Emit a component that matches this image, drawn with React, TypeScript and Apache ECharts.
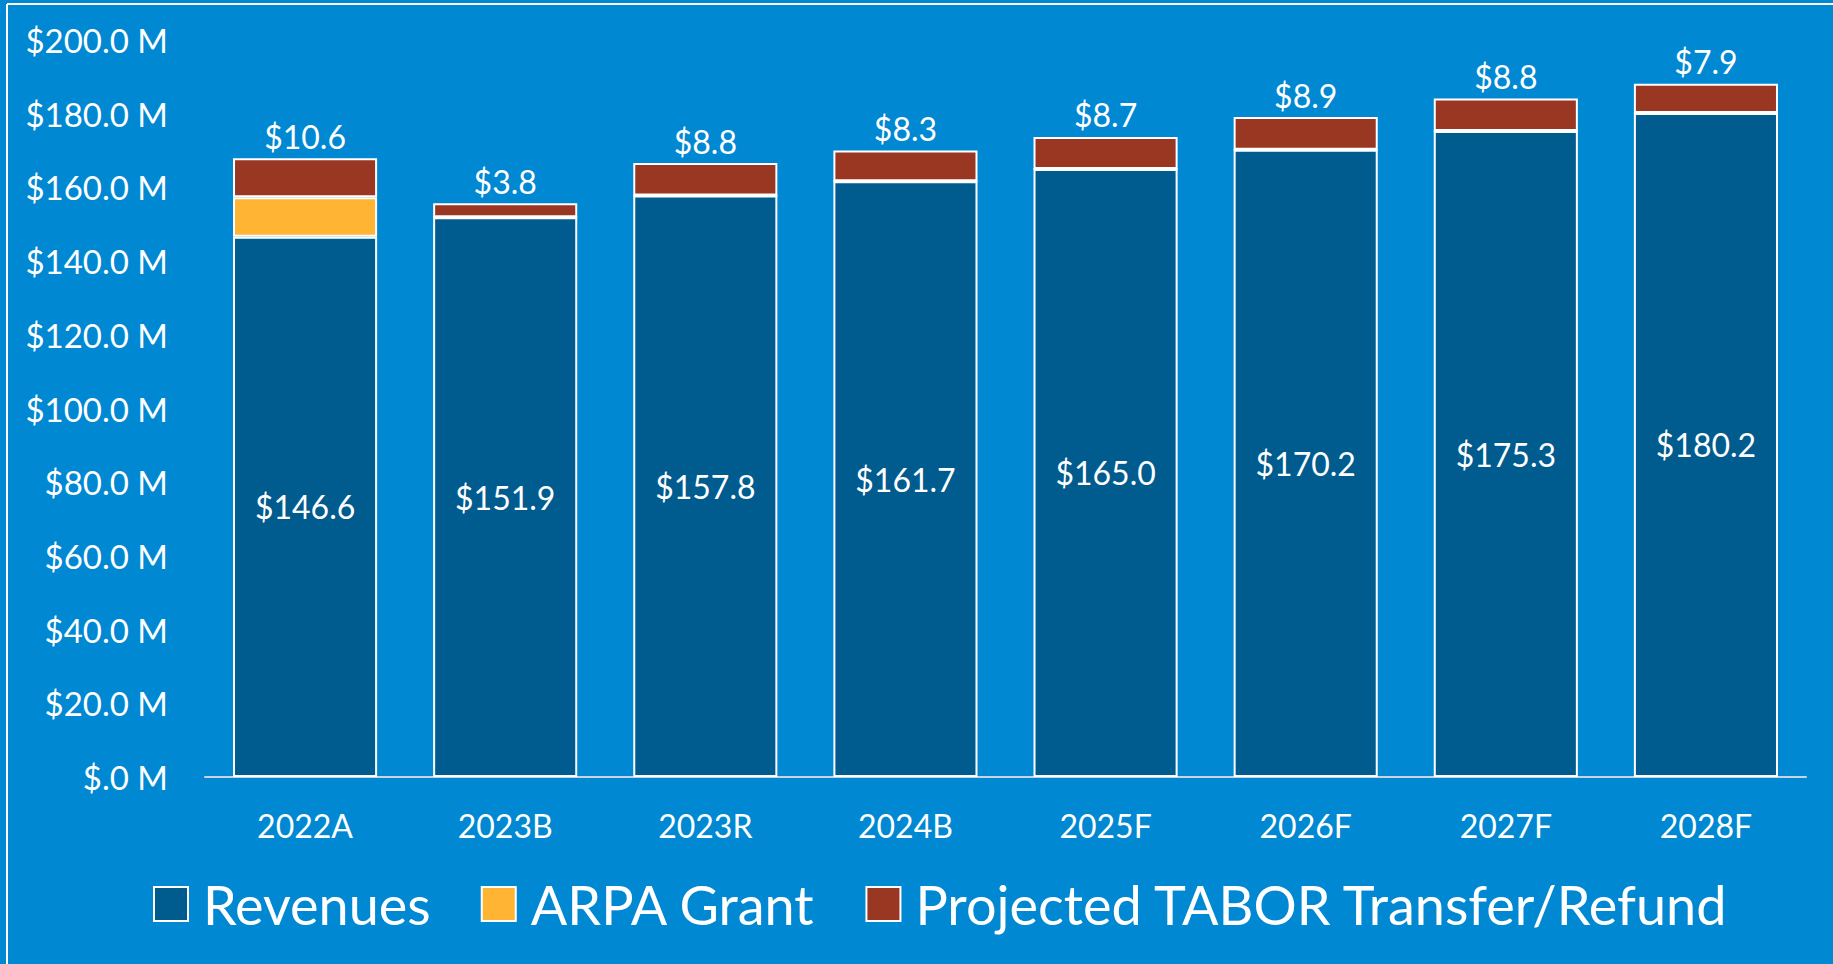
import React, { useEffect, useRef } from "react";
import * as echarts from "echarts";

const categories = ["2022A", "2023B", "2023R", "2024B", "2025F", "2026F", "2027F", "2028F"];
const revenues = [146.6, 151.9, 157.8, 161.7, 165.0, 170.2, 175.3, 180.2];
const arpaGrant = [10.7, 0, 0, 0, 0, 0, 0, 0];
const taborTransfer = [10.6, 3.8, 8.8, 8.3, 8.7, 8.9, 8.8, 7.9];
const seriesNames = ["Revenues", "ARPA Grant", "Projected TABOR Transfer/Refund"];
const yMin = 0;
const yMax = 200;
const yStep = 20;

const FONT = "Lato";
const BG = "#0088D3";
const COLORS = ["#005B8F", "#FFB533", "#9A3722"];

export default function App() {
  const ref = useRef<HTMLDivElement>(null);

  useEffect(() => {
    document.body.style.margin = "0";
    document.body.style.background = BG;
    if (!ref.current) return;
    const chart = echarts.init(ref.current, undefined, { renderer: "svg" });
    const fmtTick = (v: number) => (v === 0 ? "$.0 M" : `$${v.toFixed(1)} M`);
    const fmtVal = (p: any) => `$${Number(p.value).toFixed(1)}`;
    chart.setOption({
      animation: false,
      backgroundColor: BG,
      textStyle: { fontFamily: FONT },
      graphic: [
        { type: "line", shape: { x1: 7, y1: 4, x2: 1840, y2: 4 }, style: { stroke: "#ffffff", lineWidth: 2 } },
        { type: "line", shape: { x1: 7, y1: 4, x2: 7, y2: 970 }, style: { stroke: "#ffffff", lineWidth: 2 } },
      ],
      grid: { left: 205, right: 27, top: 40, bottom: 187 },
      legend: {
        data: seriesNames,
        left: 148,
        top: 872,
        itemWidth: 34,
        itemHeight: 34,
        itemGap: 50,
        icon: "rect",
        textStyle: { color: "#ffffff", fontSize: 54, fontFamily: FONT, padding: [0, 0, 0, 10] },
        itemStyle: { borderColor: "#ffffff", borderWidth: 2 },
      },
      xAxis: {
        type: "category",
        data: categories,
        axisLine: { lineStyle: { color: "#C8D4DE", width: 2 } },
        axisTick: { show: false },
        axisLabel: { color: "#ffffff", fontSize: 32, fontFamily: FONT, margin: 32 },
      },
      yAxis: {
        type: "value",
        min: yMin,
        max: yMax,
        interval: yStep,
        splitLine: { show: false },
        axisLine: { show: false },
        axisTick: { show: false },
        axisLabel: { color: "#ffffff", fontSize: 33, fontFamily: FONT, margin: 37, formatter: fmtTick },
      },
      series: [
        {
          name: seriesNames[0],
          type: "bar",
          stack: "total",
          data: revenues,
          barCategoryGap: "28%",
          itemStyle: { color: COLORS[0], borderColor: "#ffffff", borderWidth: 2 },
          label: { show: true, position: "inside", color: "#ffffff", fontSize: 32, fontFamily: FONT, formatter: fmtVal },
        },
        {
          name: seriesNames[1],
          type: "bar",
          stack: "total",
          data: arpaGrant,
          itemStyle: { color: COLORS[1], borderColor: "#ffffff", borderWidth: 2 },
        },
        {
          name: seriesNames[2],
          type: "bar",
          stack: "total",
          data: taborTransfer,
          itemStyle: { color: COLORS[2], borderColor: "#ffffff", borderWidth: 2 },
          label: { show: true, position: "top", distance: 6, color: "#ffffff", fontSize: 32, fontFamily: FONT, formatter: fmtVal },
        },
      ],
    });
    return () => chart.dispose();
  }, []);

  return <div ref={ref} style={{ width: 1833, height: 964 }} />;
}
